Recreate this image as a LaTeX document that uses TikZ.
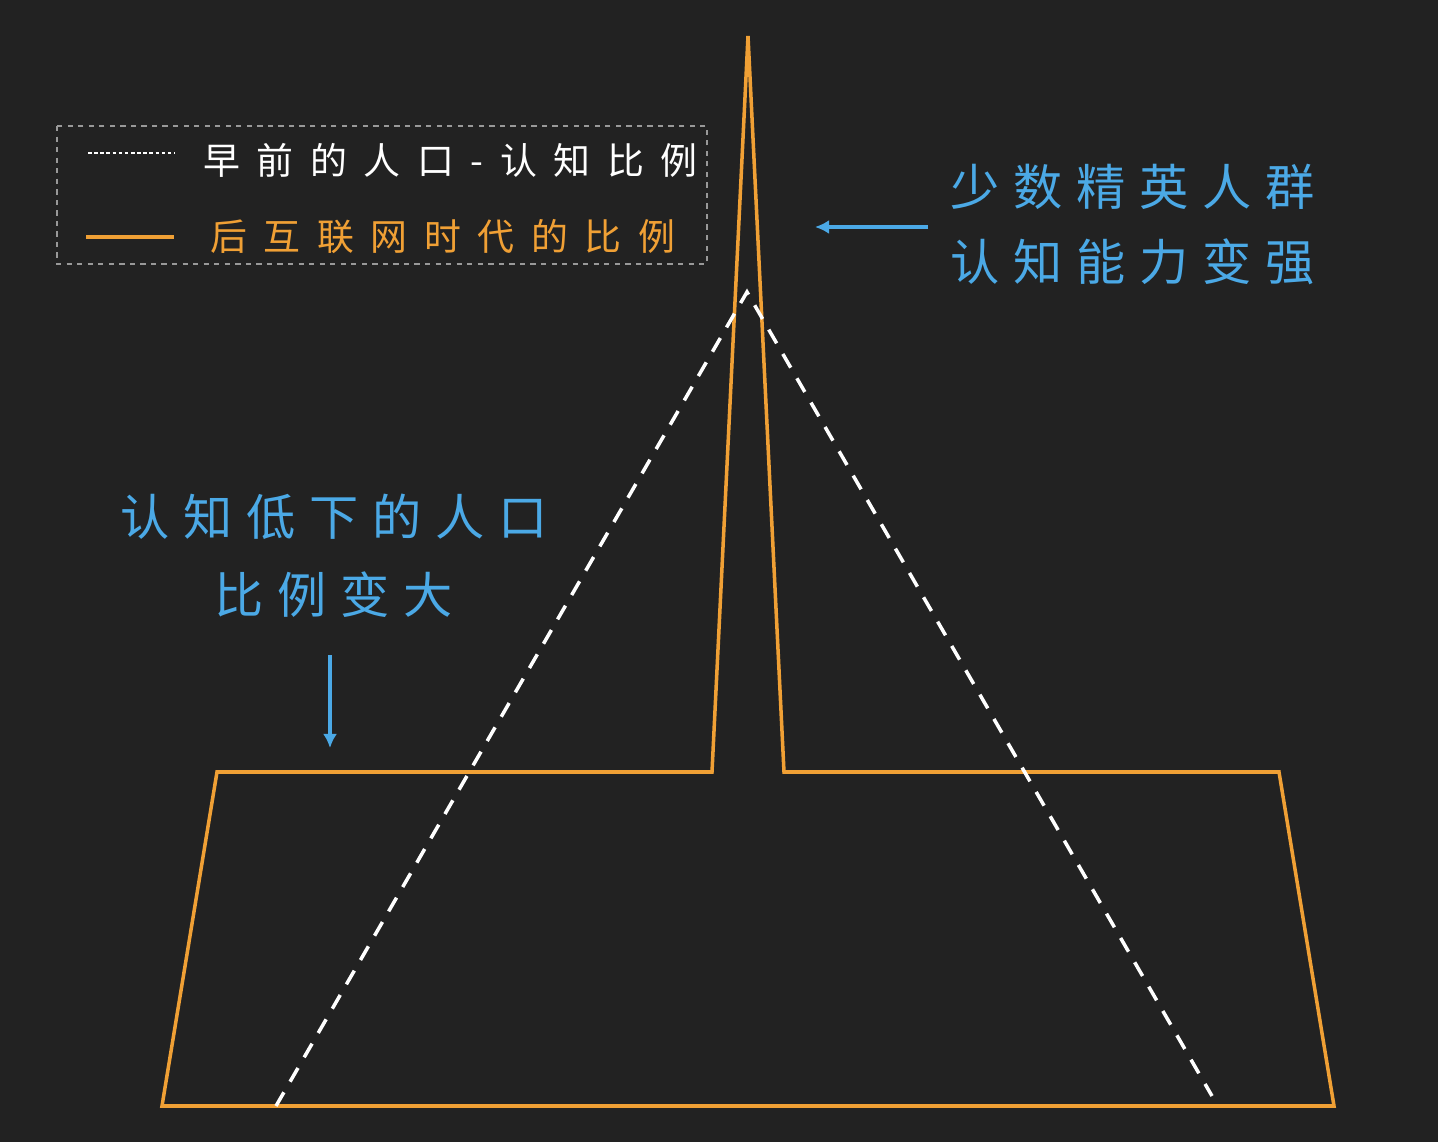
\documentclass[tikz,border=0pt]{standalone}
\usepackage{fontspec}
\usetikzlibrary{positioning,arrows.meta}
\newfontfamily\cjk[LetterSpace=45]{Noto Sans CJK SC}
\newfontfamily\cjkbig[LetterSpace=28]{Noto Sans CJK SC}
\definecolor{bgdark}{HTML}{222222}
\definecolor{lorange}{HTML}{F0A035}
\definecolor{lskyblue}{HTML}{4BA9E6}
\tikzset{font=\cjk}
\tikzstyle{none}=[inner sep=0pt]
\tikzstyle{legendtext}=[anchor=west,inner sep=0pt,font=\cjk\fontsize{21}{21}\selectfont]
\tikzstyle{notetext}=[anchor=west,inner sep=0pt,text=lskyblue,font=\cjkbig\fontsize{28}{28}\selectfont]
\tikzstyle{newline}=[draw=lorange,line width=2pt,line join=miter]
\tikzstyle{oldline}=[draw=white,line width=2pt,dash pattern=on 9pt off 7pt]
\tikzstyle{notearrow}=[-{Latex[length=8pt,width=8pt]},draw=lskyblue,line width=2pt]
\begin{document}
\begin{tikzpicture}[x=0.02cm,y=-0.02cm]
	\fill [bgdark] (0,0) rectangle (1438,1142);
	% legend
	\draw [gray!80,dashed,line width=0.8pt] (57,126) rectangle (707,264);
	\node [style=none] (LA) at (88,153) {};
	\node [style=none] (LB) at (175,153) {};
	\node [style=none] (LC) at (86,237) {};
	\node [style=none] (LD) at (174,237) {};
	\draw [white,dash pattern=on 2pt off 1.5pt,line width=0.8pt] (LA.center) to (LB.center);
	\draw [lorange,line width=2pt] (LC.center) to (LD.center);
	\node [style=legendtext,text=white] (old) at (203,160) {早前的人口-认知比例};
	\node [style=legendtext,text=lorange] (new) at (210,237) {后互联网时代的比例};
	% curves
	\draw [style=newline] (162,1106) -- (217,772) -- (712,772) -- (748,36) -- (784,772)
		-- (1279,772) -- (1334,1106) -- cycle;
	\draw [style=oldline] (276,1106) -- (747,292) -- (1212,1096);
	% notes
	\node [style=notetext] (elite1) at (950,187) {少数精英人群};
	\node [style=notetext] (elite2) at (950,262) {认知能力变强};
	\node [style=notetext] (low1) at (120,517) {认知低下的人口};
	\node [style=notetext] (low2) at (214,595) {比例变大};
	\node [style=none] (RA) at (928,227) {};
	\node [style=none] (RB) at (815,227) {};
	\node [style=none] (DA) at (330,655) {};
	\node [style=none] (DB) at (330,748) {};
	\draw [style=notearrow] (RA.center) to (RB.center);
	\draw [style=notearrow] (DA.center) to (DB.center);
\end{tikzpicture}
\end{document}
